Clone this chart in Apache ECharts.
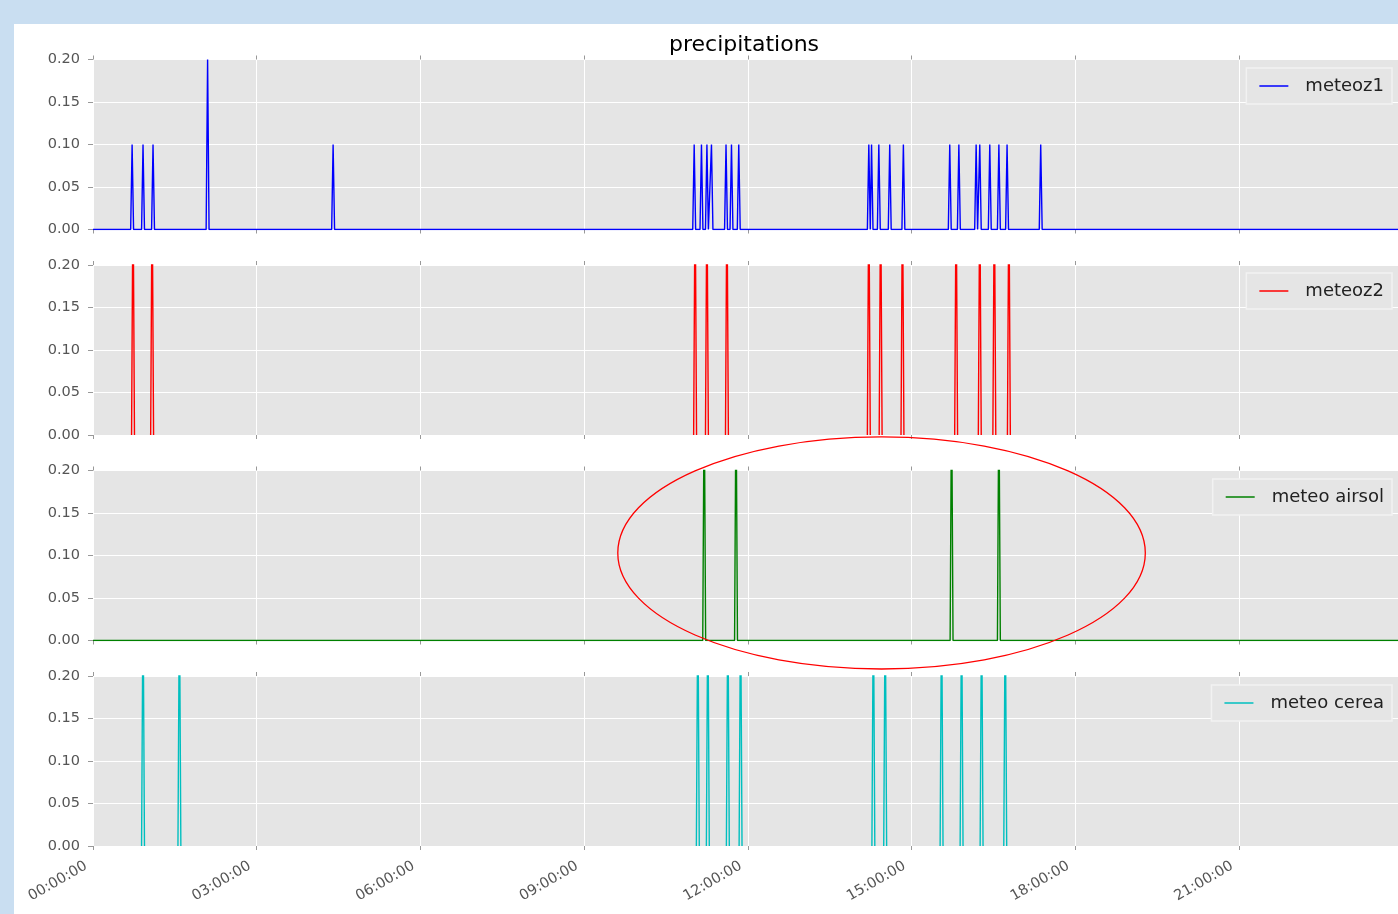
<!DOCTYPE html>
<html>
<head>
<meta charset="utf-8">
<script src="https://cdn.jsdelivr.net/npm/echarts@6/dist/echarts.min.js"></script>
<style>
  html, body { margin: 0; padding: 0; background: #c9def1; width: 1398px; height: 914px; overflow: hidden; }
  #paper { position: absolute; left: 14px; top: 24px; width: 1400px; height: 890px; background: #ffffff; }
  #chart { position: absolute; left: 0; top: 0; width: 1404px; height: 914px; }
</style>
</head>
<body>
<div id="paper"></div>
<div id="chart"></div>
<script>
// ---- data ----
const seriesNames = ['meteoz1', 'meteoz2', 'meteo airsol', 'meteo cerea'];

const meteoz1Times  = ['00:43','00:55','01:06','02:06','04:24','11:01','11:09','11:15','11:20','11:36','11:42','11:50',
                       '14:13','14:16','14:24','14:36','14:51','15:42','15:52','16:11','16:15','16:26','16:36','16:45','17:22'];
const meteoz1Values = [0.1,0.1,0.1,0.2,0.1,0.1,0.1,0.1,0.1,0.1,0.1,0.1,
                       0.1,0.1,0.1,0.1,0.1,0.1,0.1,0.1,0.1,0.1,0.1,0.1,0.1];

const meteoz2Times  = ['00:44','01:05','11:02','11:15','11:37','14:13','14:26','14:50','15:49','16:15','16:31','16:47'];
const meteoz2Values = [0.3,0.3,0.3,0.3,0.3,0.3,0.3,0.3,0.3,0.3,0.3,0.3];

const airsolTimes   = ['11:12','11:47','15:44','16:36'];
const airsolValues  = [0.3,0.3,0.3,0.3];

const cereaTimes    = ['00:55','01:35','11:05','11:16','11:38','11:52','14:18','14:31','15:33','15:55','16:17','16:43'];
const cereaValues   = [0.3,0.3,0.3,0.3,0.3,0.3,0.3,0.3,0.3,0.3,0.3,0.3];

const xTickLabels = ['00:00:00','03:00:00','06:00:00','09:00:00','12:00:00','15:00:00','18:00:00','21:00:00','00:00:00'];
const yTickLabels = ['0.00','0.05','0.10','0.15','0.20'];

// ---- helpers ----
const HALF = 1.6; // half width of a sample step, minutes
function toMin(s) { const p = s.split(':'); return (+p[0]) * 60 + (+p[1]); }
function build(times, values, baseline) {
  const pts = [];
  if (baseline) pts.push([0, 0]);
  times.forEach((t, i) => {
    const m = toMin(t);
    pts.push([m - HALF, 0], [m, values[i]], [m + HALF, 0]);
    if (!baseline) pts.push([m + HALF + 0.01, '-']);
  });
  if (baseline) pts.push([1440, 0]);
  return pts;
}

const colors = ['#0000ff', '#ff0000', '#008000', '#00bfbf'];
const dataSets = [
  build(meteoz1Times, meteoz1Values, true),
  build(meteoz2Times, meteoz2Values, false),
  build(airsolTimes, airsolValues, true),
  build(cereaTimes, cereaValues, false)
];

const FONT = 'DejaVu Sans';
const tops = [59.5, 265, 470.5, 676];
const legendTops = [68, 273, 479, 685];

const grids = tops.map(t => ({
  left: 93, top: t, width: 1309.7, height: 170,
  show: true, backgroundColor: '#e5e5e5', borderWidth: 0
}));

const xAxes = [];
for (let i = 0; i < 4; i++) {
  xAxes.push({
    type: 'value', gridIndex: i, min: 0, max: 1440, interval: 180, position: 'bottom',
    axisLine: { show: false, onZero: false },
    axisTick: { show: true, length: 4, lineStyle: { color: '#999', width: 1 } },
    splitLine: { show: true, lineStyle: { color: '#ffffff', width: 1 } },
    axisLabel: {
      show: i === 3, rotate: 30, margin: 15, padding: [0, 8, 0, 0],
      color: '#555', fontSize: 14.5, fontFamily: FONT, showMaxLabel: false,
      formatter: v => xTickLabels[Math.round(v / 180)]
    }
  });
}
for (let i = 0; i < 4; i++) {
  xAxes.push({
    type: 'value', gridIndex: i, min: 0, max: 1440, interval: 180, position: 'top',
    axisLine: { show: false, onZero: false },
    axisTick: { show: true, length: 4, lineStyle: { color: '#999', width: 1 } },
    splitLine: { show: false },
    axisLabel: { show: false }
  });
}

const yAxes = tops.map((t, i) => ({
  type: 'value', gridIndex: i, min: 0, max: 0.2, interval: 0.05,
  axisLine: { show: false },
  axisTick: { show: true, length: 5, lineStyle: { color: '#999', width: 1 } },
  splitLine: { show: true, lineStyle: { color: '#ffffff', width: 1 } },
  axisLabel: {
    margin: 13, color: '#555', fontSize: 14.5, fontFamily: FONT,
    formatter: v => yTickLabels[Math.round(v / 0.05)]
  }
}));

const series = seriesNames.map((n, i) => ({
  name: n, type: 'line', xAxisIndex: i, yAxisIndex: i,
  data: dataSets[i], showSymbol: false, symbol: 'none', connectNulls: false,
  clip: true, animation: false,
  color: colors[i],
  lineStyle: { color: colors[i], width: 1.4 },
  itemStyle: { color: colors[i] }
}));

const legends = seriesNames.map((n, i) => ({
  data: [n], right: 12, top: legendTops[i], orient: 'horizontal',
  icon: 'rect', itemWidth: 29, itemHeight: 1.5,
  padding: [9, 8, 9, 13],
  backgroundColor: '#e5e5e5', borderColor: '#f2f2f2', borderWidth: 1.5, borderRadius: 0,
  selectedMode: false,
  textStyle: { color: '#222', fontSize: 18, fontFamily: FONT, padding: [0, 0, 0, 12] }
}));

const chart = echarts.init(document.getElementById('chart'), null, { renderer: 'canvas' });
chart.setOption({
  animation: false,
  backgroundColor: 'transparent',
  title: {
    text: 'precipitations', left: 669, top: 34, padding: 0,
    textStyle: { color: '#000', fontSize: 22, fontWeight: 'normal', fontFamily: FONT }
  },
  grid: grids,
  xAxis: xAxes,
  yAxis: yAxes,
  legend: legends,
  series: series
});

// ---- hand-drawn annotation ellipse, anchored in panel 3 data coordinates ----
const ellCenter = [867, 0.103];   // minutes, value
const ellRadius = [290, 0.1365];  // minutes, value
const c = chart.convertToPixel({ xAxisIndex: 2, yAxisIndex: 2 }, ellCenter);
const r = chart.convertToPixel({ xAxisIndex: 2, yAxisIndex: 2 }, [ellCenter[0] + ellRadius[0], ellCenter[1] + ellRadius[1]]);
chart.setOption({
  graphic: [{
    type: 'ellipse', z: 100,
    shape: { cx: c[0], cy: c[1], rx: Math.abs(r[0] - c[0]), ry: Math.abs(c[1] - r[1]) },
    style: { fill: null, stroke: '#ff0000', lineWidth: 1.3 }
  }]
});
</script>
</body>
</html>
